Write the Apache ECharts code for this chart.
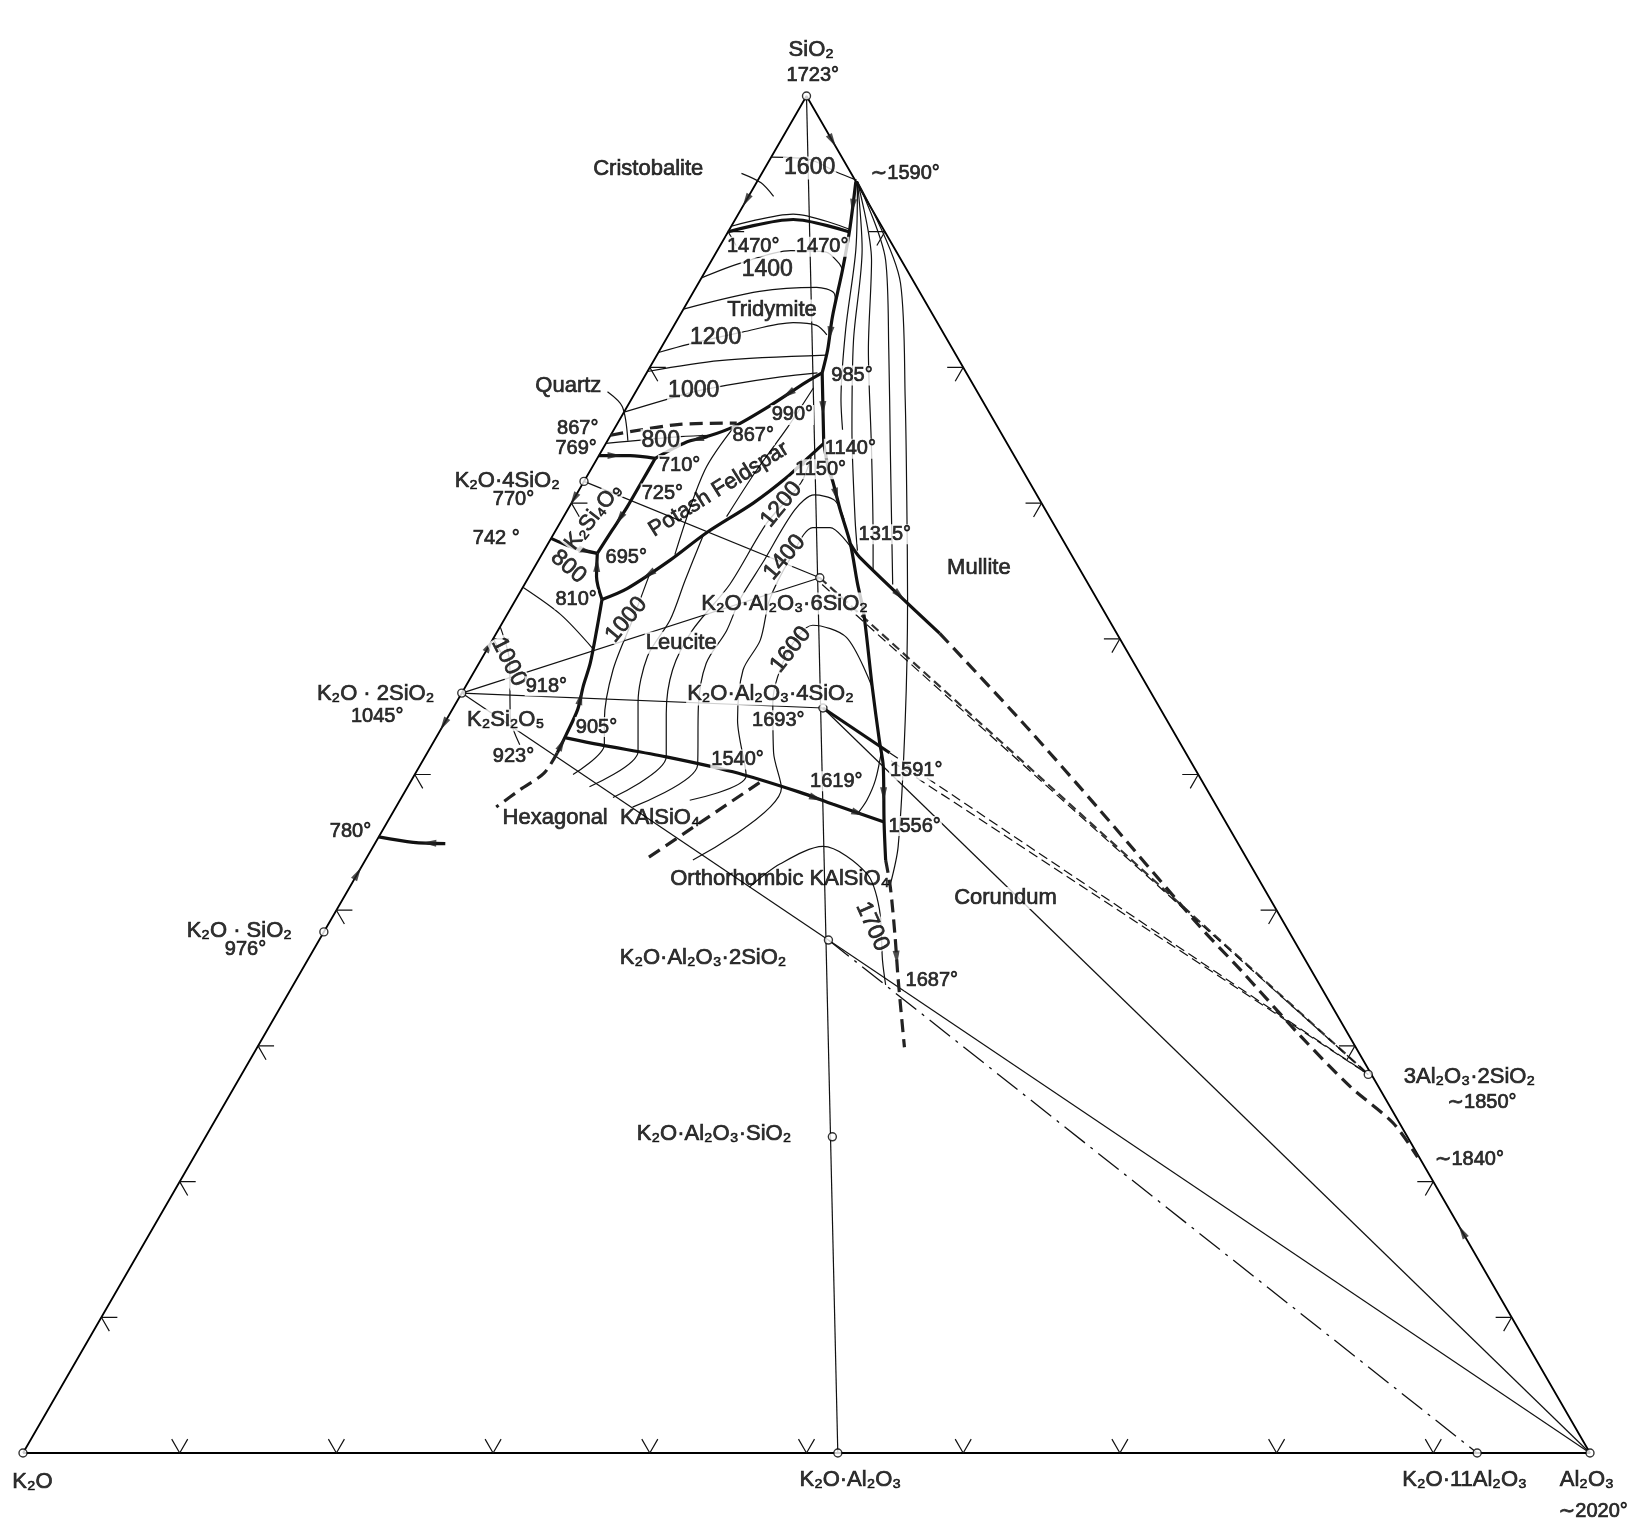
<!DOCTYPE html>
<html>
<head>
<meta charset="utf-8">
<title>K2O – Al2O3 – SiO2</title>
<script src="https://cdn.jsdelivr.net/npm/echarts@6.0.0/dist/echarts.min.js"></script>
<style>
  html, body { margin: 0; background: #fff; }
  #chart { width: 1628px; height: 1539px; }
</style>
</head>
<body>
<div id="chart"></div>
<script>
  // compositions are weight per cent [Al2O3, SiO2]; K2O is the remainder

  // compounds (open circles)
  const compoundNames = ['SiO2', 'K2O', 'Al2O3', 'K2O·4SiO2', 'K2O·2SiO2', 'K2O·SiO2', 'K2O·Al2O3·6SiO2',
    'K2O·Al2O3·4SiO2', 'K2O·Al2O3·2SiO2', 'K2O·Al2O3·SiO2', 'K2O·Al2O3', 'K2O·11Al2O3', '3Al2O3·2SiO2']
  const compoundAl2O3 = [0, 0, 100, 0, 0, 0, 18.6, 23.6, 32.5, 40.0, 52.0, 92.8, 71.9]
  const compoundSiO2 = [100, 0, 0, 71.6, 56.0, 38.4, 64.5, 54.9, 37.8, 23.3, 0, 0, 27.9]

  // joins between compounds
  const solidJoins = [
    ['SiO2', 'K2O·Al2O3'],
    ['K2O·4SiO2', 'K2O·Al2O3·6SiO2'],
    ['K2O·2SiO2', 'K2O·Al2O3·6SiO2'],
    ['K2O·2SiO2', 'K2O·Al2O3·4SiO2'],
    ['K2O·2SiO2', 'K2O·Al2O3·2SiO2'],
    ['K2O·Al2O3·4SiO2', 'Al2O3'],
    ['K2O·Al2O3·2SiO2', 'Al2O3']
  ]
  const dashedJoins = [['K2O·Al2O3·2SiO2', 'K2O·11Al2O3']]
  const orthoclaseMullite = [[18.6, 64.5], [71.9, 27.9]]
  const orthoclaseMullite2 = [[19.0, 64.0], [71.9, 27.9]]
  const leuciteMulliteSolid = [[23.6, 54.9], [29.5, 51.6]]
  const leuciteMullite = [[29.5, 51.6], [71.9, 27.9]]
  const leuciteMullite2 = [[29.9, 51.0], [71.9, 27.9]]

  // boundary curves (heavy)
  const silicaMullite = [[6.3, 93.7], [7.7, 90.1], [8.7, 87.2], [9.8, 83.7], [10.7, 81.3], [11.2, 79.6]]
  const point985to1150 = [[11.2, 79.6], [13.9, 74.4], [15.2, 72.4]]
  const mulliteLeucite = [[15.2, 72.4], [15.8, 71.7], [17.4, 69.5], [19.3, 67.0], [21.2, 64.1], [22.7, 61.9],
    [26.0, 56.4], [28.4, 52.5], [29.6, 50.6], [31.7, 46.5], [33.2, 43.7]]
  const mulliteKalsilite = [[33.2, 43.7], [34.5, 41.7], [36.6, 38.1], [38.4, 34.9], [41.3, 29.9]]
  const mulliteBranch = [[19.3, 67.0], [20.4, 66.0], [28.3, 60.4]]
  const mulliteBranchDashed = [[28.3, 60.4], [37.3, 53.5], [45.0, 47.4], [55.7, 38.8], [59.9, 35.6],
    [66.2, 30.7], [71.2, 27.0], [75.3, 24.3], [78.1, 21.8]]
  const feldsparLeucite = [[5.5, 62.9], [6.7, 63.7], [8.4, 65.8], [9.7, 67.8], [11.6, 70.0], [12.8, 71.9],
    [13.5, 73.5], [13.9, 74.4]]
  const silicaFeldspar = [[3.7, 73.3], [5.1, 74.5], [6.2, 74.9], [7.5, 75.6], [9.1, 77.2], [10.5, 78.9], [11.2, 79.6]]
  const quartzTridymite = [[0, 75.0], [4.0, 75.8], [7.6, 75.9]]
  const tetrasilicateQuartz = [[0, 73.5], [2.0, 73.5], [3.7, 73.3]]
  const tetrasilicateFeldspar = [[3.7, 73.3], [3.7, 71.7], [3.7, 69.7], [3.6, 68.0], [3.5, 66.3]]
  const tetraDisilicate = [[0, 67.4], [1.8, 66.7], [3.5, 66.3]]
  const disilicateFeldspar = [[3.5, 66.3], [4.3, 64.6], [5.5, 62.9]]
  const disilicateLeucite = [[5.5, 62.9], [6.2, 60.9], [7.1, 58.2], [7.5, 56.5], [8.0, 54.8], [8.2, 52.9], [8.3, 51.6]]
  const disilicateKalsilite = [[8.3, 51.6], [8.2, 50.1], [7.3, 48.9], [6.4, 47.6]]
  const leuciteKalsilite = [[8.3, 52.7], [10.7, 52.2], [15.4, 51.3], [20.2, 50.2], [25.2, 48.7], [27.8, 47.8], [31.7, 46.5]]
  const kalsiliteInversion = [[22.3, 49.4], [17.9, 43.8]]
  const curve780 = [[0, 45.4], [2.4, 45.0], [4.5, 44.9]]
  const inversion1470Lower = [[0, 90.0], [3.7, 90.9], [7.7, 90.0]]

  // isotherms (light)
  const inversion1470Upper = [[0, 90.4], [3.5, 91.3], [7.6, 90.2]]
  const iso1600Silica = [[0, 95.5], [2.6, 95.3], [4.7, 94.4], [6.3, 93.8]]
  const iso1400Silica = [[0, 86.6], [2.0, 87.7], [4.7, 88.6], [7.0, 88.5], [8.2, 87.7], [8.7, 87.2]]
  const iso1300Silica = [[0, 84.3], [4.2, 85.6], [7.7, 85.9], [9.0, 85.5], [9.5, 84.7]]
  const iso1200Silica = [[0, 81.1], [1.6, 81.7], [4.6, 82.6], [7.5, 83.3], [9.1, 83.1], [10.1, 82.4]]
  const iso1100Silica = [[0, 79.7], [4.2, 80.5], [10.8, 80.9]]
  const iso1000Silica = [[0, 76.7], [3.7, 78.2], [5.6, 78.7], [8.7, 79.3], [10.9, 79.6]]
  const iso800Quartz = [[0, 74.4], [4.5, 74.9], [6.5, 75.0]]
  const isoFeldsparA = [[7.6, 75.8], [7.3, 72.4], [8.5, 66.2]]
  const isoFeldsparB = [[11.2, 78.5], [11.0, 75.6], [10.6, 72.4], [10.4, 69.0]]
  const iso1000Leucite = [[7.6, 64.8], [8.2, 61.4], [8.8, 57.7], [10.1, 54.0], [11.0, 52.2], [10.1, 50.0]]
  const iso1100Leucite = [[9.6, 67.6], [10.1, 64.3], [10.6, 61.4], [10.5, 58.7], [11.6, 55.3], [13.4, 51.7], [11.6, 49.1]]
  const iso1200Leucite = [[13.6, 73.4], [13.9, 71.5], [13.2, 68.5], [13.1, 64.0], [12.4, 60.6], [12.6, 57.7],
    [13.8, 54.5], [15.4, 51.3], [13.5, 48.3]]
  const iso1300Leucite = [[18.0, 68.8], [16.7, 70.2], [15.2, 70.6], [14.5, 69.5], [14.4, 65.6], [14.3, 62.9],
    [14.6, 60.6], [14.5, 58.2], [15.6, 55.0], [17.7, 50.7], [15.1, 47.6]]
  const iso1400Leucite = [[19.4, 66.8], [17.4, 68.2], [16.3, 68.2], [16.0, 66.0], [16.2, 62.9], [17.1, 59.9],
    [17.1, 57.7], [18.6, 54.0], [21.2, 49.9], [18.5, 48.1]]
  const iso1600Leucite = [[20.9, 43.7], [23.9, 49.0], [22.1, 51.6], [20.2, 55.3], [19.3, 59.0], [19.9, 61.0],
    [22.5, 60.1], [26.0, 56.4]]
  const iso1600Loop = [[28.9, 51.8], [29.6, 49.6], [29.8, 48.1], [29.7, 47.1]]
  const iso1700 = [[25.5, 41.7], [26.6, 43.4], [28.7, 44.7], [32.5, 42.7], [34.6, 40.1], [36.7, 36.3], [37.8, 34.5]]
  const isoDisilicateA = [[0, 63.8], [3.4, 61.8], [6.7, 59.3]]
  const isoDisilicateB = [[0, 60.9], [1.9, 58.3], [4.0, 54.2], [5.6, 52.2]]
  const isoMullite1 = [[6.4, 93.7], [8.8, 88.7], [11.1, 82.8], [13.4, 77.6], [14.6, 75.4]]
  const isoMullite2 = [[6.4, 93.7], [9.2, 88.7], [12.0, 82.0], [15.2, 75.4], [18.7, 68.8], [20.0, 66.5]]
  const isoMullite3 = [[6.4, 93.7], [10.2, 87.9], [13.3, 81.3], [17.2, 73.9], [20.6, 67.3], [21.7, 65.1]]
  const isoMullite4 = [[6.4, 93.7], [11.1, 87.9], [14.6, 81.3], [18.4, 73.9], [21.8, 67.3], [23.5, 64.0]]
  const isoMullite5 = [[6.4, 93.7], [12.9, 86.2], [17.5, 77.6], [21.3, 70.2], [25.0, 62.9], [29.3, 54.0],
    [33.5, 44.7], [34.4, 41.9]]

  // leaders for field names
  const cristobaliteLeader = [[-1.3, 94.3], [0.3, 93.6], [1.6, 92.6]]
  const quartzLeader = [[-1.8, 78.2], [-0.3, 77.1], [1.3, 74.6]]

  // direction-of-falling-temperature arrows on the edges: [from, to]
  const edgeArrows = [
    [[0, 92.6], [0, 92.0]], [[0, 70.6], [0, 70.0]], [[0, 59.2], [0, 59.8]],
    [[0, 54.0], [0, 53.4]], [[0, 42.4], [0, 43.0]], [[3.0, 97.0], [3.6, 96.4]], [[84.0, 16.0], [83.4, 16.6]]
  ]

  // tick marks every 10 %
  const tickSteps = [10, 20, 30, 40, 50, 60, 70, 80, 90]

  // labels: text, anchor in plot units (x = Al2O3 + SiO2/2, y = SiO2), rotation, masked
  const labels = [
    ['SiO₂', 50.3, 103.4, 0, 0], ['1723°', 50.4, 101.5, 0, 0],
    ['Cristobalite', 39.9, 94.6, 0, 0], ['1600', 50.2, 94.7, 0, 1], ['∼1590°', 56.3, 94.3, 0, 0],
    ['1470°', 46.6, 88.9, 0, 1], ['1470°', 51.0, 88.9, 0, 1], ['1400', 47.5, 87.2, 0, 1],
    ['Tridymite', 47.8, 84.2, 0, 1], ['1200', 44.2, 82.2, 0, 1], ['Quartz', 34.8, 78.6, 0, 0],
    ['1000', 42.8, 78.3, 0, 1], ['985°', 52.9, 79.4, 0, 1], ['990°', 49.1, 76.5, 0, 1],
    ['867°', 35.4, 75.5, 0, 0], ['769°', 35.3, 74.0, 0, 0], ['800', 40.7, 74.6, 0, 1],
    ['867°', 46.6, 75.0, 0, 1], ['1140°', 52.8, 74.0, 0, 1], ['710°', 41.9, 72.8, 0, 1],
    ['1150°', 50.9, 72.5, 0, 1], ['K₂O·4SiO₂', 30.9, 71.6, 0, 0], ['770°', 31.3, 70.3, 0, 0],
    ['725°', 40.8, 70.7, 0, 1], ['K₂Si₄O₉', 36.4, 69.0, 52, 1], ['Potash Feldspar', 44.4, 71.0, 32, 0],
    ['742 °', 30.2, 67.4, 0, 0], ['1315°', 55.0, 67.7, 0, 1], ['Mullite', 61.0, 65.2, 0, 0],
    ['695°', 38.5, 66.0, 0, 1], ['800', 34.8, 65.3, -41, 1], ['1200', 48.4, 69.9, 51, 1],
    ['1400', 48.6, 66.0, 50, 1], ['K₂O·Al₂O₃·6SiO₂', 48.6, 62.6, 0, 1], ['810°', 35.3, 62.9, 0, 1],
    ['1000', 38.5, 61.4, 50, 1], ['Leucite', 42.0, 59.7, 0, 1], ['1000', 31.0, 58.3, -63, 1],
    ['1600', 49.0, 59.2, 52, 1], ['K₂O · 2SiO₂', 22.5, 55.9, 0, 0], ['1045°', 22.6, 54.3, 0, 0],
    ['918°', 33.4, 56.5, 0, 1], ['K₂O·Al₂O₃·4SiO₂', 47.7, 55.9, 0, 1], ['K₂Si₂O₅', 30.8, 54.0, 0, 1],
    ['905°', 36.6, 53.5, 0, 1], ['1693°', 48.2, 54.0, 0, 1], ['923°', 31.3, 51.3, 0, 1],
    ['1540°', 45.6, 51.1, 0, 1], ['1591°', 57.0, 50.3, 0, 1], ['1619°', 51.9, 49.5, 0, 1],
    ['Hexagonal  KAlSiO₄', 36.9, 46.8, 0, 0], ['1556°', 56.9, 46.2, 0, 1], ['780°', 20.9, 45.8, 0, 0],
    ['Orthorhombic KAlSiO₄', 48.3, 42.3, 0, 0], ['Corundum', 62.7, 40.9, 0, 1], ['1700', 54.2, 38.8, -66, 1],
    ['K₂O · SiO₂', 13.8, 38.5, 0, 0], ['976°', 14.2, 37.1, 0, 0], ['K₂O·Al₂O₃·2SiO₂', 43.4, 36.5, 0, 1],
    ['1687°', 58.0, 34.8, 0, 1], ['3Al₂O₃·2SiO₂', 92.3, 27.7, 0, 0], ['∼1850°', 93.1, 25.8, 0, 0],
    ['∼1840°', 92.3, 21.6, 0, 0], ['K₂O·Al₂O₃·SiO₂', 44.1, 23.5, 0, 1],
    ['K₂O', 0.6, -2.1, 0, 0], ['K₂O·Al₂O₃', 52.8, -2.0, 0, 0], ['K₂O·11Al₂O₃', 92.0, -2.0, 0, 0],
    ['Al₂O₃', 99.8, -2.0, 0, 0], ['∼2020°', 100.2, -4.3, 0, 0]
  ]

  // layout
  const grid = { left: 23, top: 96, width: 1567, height: 1357 }
  const pxPerX = grid.width / 100
  const pxPerY = grid.height / 100
  const ink = '#000'
  const fontFamily = "'Liberation Sans', 'DejaVu Sans', sans-serif"

  const toXY = p => [p[0] + p[1] / 2, p[1]]
  const compoundAt = name => {
    const i = compoundNames.indexOf(name)
    return [compoundAl2O3[i], compoundSiO2[i]]
  }

  const styles = {
    edge: { color: ink, width: 1.8 },
    thin: { color: '#111', width: 1.2 },
    heavy: { color: '#111', width: 3.2 },
    heavyDash: { color: '#222', width: 3.2, type: [13, 7] },
    joinDash: { color: '#111', width: 1.2, type: [10, 5] },
    joinDashHeavy: { color: '#333', width: 2.2, type: [9, 5] },
    longDash: { color: '#111', width: 1.3, type: [26, 7, 3, 7] }
  }

  const series = []
  const addCurve = (pts, style, smooth, isPlotUnits) => {
    series.push({
      type: 'line',
      data: isPlotUnits ? pts : pts.map(toXY),
      symbol: 'none',
      smooth: smooth ? 0.3 : false,
      lineStyle: style,
      clip: false,
      silent: true,
      z: 2
    })
  }

  // triangle
  addCurve([[0, 0], [100, 0], [0, 100], [0, 0]], styles.edge, false)

  // ticks: small V opening toward the inside of the triangle
  const tickArms = (base, nx, ny) => {
    const b = toXY(base)
    const arm = 16
    const ends = [-30, 30].map(deg => {
      const r = deg * Math.PI / 180
      const dx = nx * Math.cos(r) - ny * Math.sin(r)
      const dy = nx * Math.sin(r) + ny * Math.cos(r)
      return [b[0] + dx * arm / pxPerX, b[1] - dy * arm / pxPerY]
    })
    return [ends[0], b, ends[1]]
  }
  tickSteps.forEach(t => {
    addCurve(tickArms([t, 0], 0, -1), styles.thin, false, true)
    addCurve(tickArms([0, t], 0.866, 0.5), styles.thin, false, true)
    addCurve(tickArms([100 - t, t], -0.866, 0.5), styles.thin, false, true)
  })

  // joins
  solidJoins.forEach(([a, b]) => addCurve([compoundAt(a), compoundAt(b)], styles.thin, false))
  dashedJoins.forEach(([a, b]) => addCurve([compoundAt(a), compoundAt(b)], styles.longDash, false))
  addCurve(orthoclaseMullite, styles.joinDashHeavy, false)
  addCurve(orthoclaseMullite2, styles.joinDash, false)
  addCurve(leuciteMulliteSolid, styles.heavy, false)
  addCurve(leuciteMullite, styles.joinDash, false)
  addCurve(leuciteMullite2, styles.joinDash, false)

  // light isotherms
  ;[inversion1470Upper, iso1600Silica, iso1400Silica, iso1300Silica, iso1200Silica, iso1100Silica, iso1000Silica,
    iso800Quartz, isoFeldsparA, isoFeldsparB, iso1000Leucite, iso1100Leucite, iso1200Leucite, iso1300Leucite,
    iso1400Leucite, iso1600Leucite, iso1600Loop, iso1700, isoDisilicateA, isoDisilicateB,
    isoMullite1, isoMullite2, isoMullite3, isoMullite4, isoMullite5, cristobaliteLeader, quartzLeader
  ].forEach(c => addCurve(c, styles.thin, true))

  // heavy boundaries
  ;[silicaMullite, mulliteLeucite, mulliteBranch, feldsparLeucite, silicaFeldspar, tetrasilicateQuartz,
    tetrasilicateFeldspar, tetraDisilicate, disilicateFeldspar, disilicateLeucite, leuciteKalsilite,
    curve780, inversion1470Lower
  ].forEach(c => addCurve(c, styles.heavy, true))
  addCurve(point985to1150, styles.heavy, false)
  ;[mulliteKalsilite, mulliteBranchDashed, disilicateKalsilite, quartzTridymite, kalsiliteInversion]
    .forEach(c => addCurve(c, styles.heavyDash, true))

  // arrowheads on boundaries: [curve, segment index, reversed]
  const curveArrows = [
    [silicaMullite, 0, false], [silicaMullite, 3, false], [mulliteLeucite, 1, false], [mulliteLeucite, 8, false],
    [mulliteBranch, 1, false], [mulliteKalsilite, 2, false], [feldsparLeucite, 1, true], [feldsparLeucite, 5, true],
    [silicaFeldspar, 1, true], [silicaFeldspar, 4, true], [leuciteKalsilite, 4, false], [leuciteKalsilite, 5, false],
    [tetrasilicateFeldspar, 2, false], [disilicateFeldspar, 0, true], [disilicateLeucite, 3, true],
    [disilicateLeucite, 5, true], [curve780, 1, true], [point985to1150, 0, false], [tetraDisilicate, 1, false],
    [tetrasilicateQuartz, 0, false]
  ]
  const arrowItem = (p, q) => {
    const a = toXY(p), b = toXY(q)
    const dx = (b[0] - a[0]) * pxPerX, dy = -(b[1] - a[1]) * pxPerY
    return {
      value: [(a[0] + b[0]) / 2, (a[1] + b[1]) / 2],
      symbolRotate: Math.atan2(-dx, -dy) * 180 / Math.PI
    }
  }
  const arrowData = curveArrows.map(([c, i, rev]) => rev ? arrowItem(c[i + 1], c[i]) : arrowItem(c[i], c[i + 1]))
    .concat(edgeArrows.map(([p, q]) => arrowItem(p, q)))
  series.push({
    type: 'scatter',
    data: arrowData,
    symbol: 'triangle',
    symbolSize: [7, 14],
    itemStyle: { color: '#222' },
    clip: false,
    silent: true,
    z: 4
  })

  // compound circles
  series.push({
    type: 'scatter',
    data: compoundNames.map((n, i) => toXY([compoundAl2O3[i], compoundSiO2[i]])),
    symbol: 'circle',
    symbolSize: 8,
    itemStyle: { color: '#fff', borderColor: ink, borderWidth: 1.4 },
    clip: false,
    silent: true,
    z: 6
  })

  // text
  const sizeOf = text => text.includes('°') ? 20 : (/^\d+$/.test(text) ? 23 : 22)
  series.push({
    type: 'scatter',
    symbolSize: 1,
    itemStyle: { color: 'rgba(0,0,0,0)' },
    clip: false,
    silent: true,
    z: 8,
    label: {
      show: true, position: 'inside', color: ink, fontFamily,
      textBorderColor: ink, textBorderWidth: 0.7
    },
    labelLayout: { hideOverlap: false },
    data: labels.map(([text, x, y, rot, masked]) => ({
      value: [x, y],
      label: {
        formatter: text,
        rotate: rot,
        fontSize: sizeOf(text),
        backgroundColor: masked ? '#fff' : 'transparent',
        padding: masked ? [0, 1] : 0
      }
    }))
  })

  const chart = echarts.init(document.getElementById('chart'))
  chart.setOption({
    animation: false,
    backgroundColor: '#fff',
    grid: { ...grid, containLabel: false },
    xAxis: { type: 'value', min: 0, max: 100, show: false },
    yAxis: { type: 'value', min: 0, max: 100, show: false },
    series
  })
</script>
</body>
</html>
